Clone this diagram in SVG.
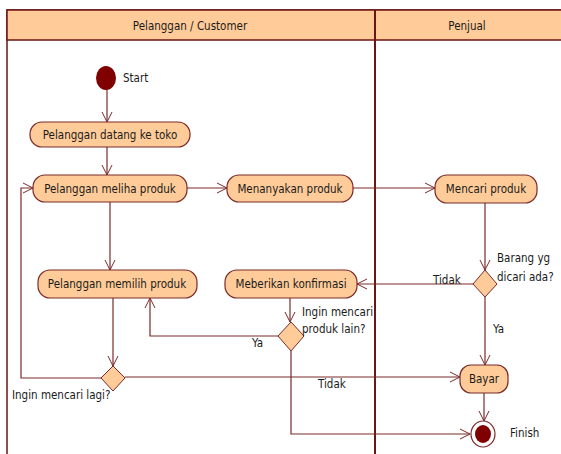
<svg xmlns="http://www.w3.org/2000/svg" width="561" height="454" viewBox="0 0 561 454">
  <defs>
    <style>
      .lane { fill: #ffffff; stroke: #6b1515; stroke-width: 1.5; }
      .head { fill: #ffcc99; stroke: #6b1515; stroke-width: 1.5; }
      .div { stroke: #6b1515; stroke-width: 2; }
      .act { fill: #ffcc99; stroke: #7a2a2a; stroke-width: 1.2; }
      .dec { fill: #ffcc99; stroke: #7a2a2a; stroke-width: 1; }
      .edge { fill: none; stroke: #7a2a2a; stroke-width: 1.2; marker-end: url(#open); }
      .t { font-family: "DejaVu Sans Condensed", "Liberation Sans", sans-serif; font-size: 11.5px; fill: #1a1a1a; }
      .c { text-anchor: middle; }
    </style>
    <marker id="open" viewBox="0 0 12 12" refX="11" refY="6" markerWidth="12" markerHeight="12" markerUnits="userSpaceOnUse" orient="auto">
      <path d="M1,1 L11,6 L1,11" fill="none" stroke="#7a2a2a" stroke-width="1"/>
    </marker>
  </defs>

  <!-- swimlanes -->
  <g id="lanes">
    <rect class="lane" x="7" y="10" width="560" height="450"/>
    <rect class="head" x="7" y="10" width="560" height="30"/>
    <line class="div" x1="375" y1="10" x2="375" y2="454"/>
    <text class="t c" x="190" y="30">Pelanggan / Customer</text>
    <text class="t c" x="467" y="30">Penjual</text>
  </g>

  <!-- connectors -->
  <g id="edges">
    <path class="edge" d="M107,90 V122"/>
    <path class="edge" d="M107,147 V175"/>
    <path class="edge" d="M187,188 H227"/>
    <path class="edge" d="M353,188 H435"/>
    <path class="edge" d="M485,203 V270"/>
    <path class="edge" d="M473,284 H357"/>
    <path class="edge" d="M485,297 V365"/>
    <path class="edge" d="M290,298 V322"/>
    <path class="edge" d="M278,336 H150 V298"/>
    <path class="edge" d="M291,351 V434 H470"/>
    <path class="edge" d="M110,202 V270"/>
    <path class="edge" d="M113,298 V366"/>
    <path class="edge" d="M101,378 H21 V188 H33"/>
    <path class="edge" d="M125,377 H460"/>
    <path class="edge" d="M484,393 V421"/>
  </g>

  <g id="start">
    <ellipse cx="106" cy="78" rx="10" ry="12" fill="#800000"/>
    <text class="t" x="123" y="82">Start</text>
  </g>
  <g id="datang">
    <rect class="act" x="30" y="122" width="160" height="25" rx="12"/>
    <text class="t c" x="110" y="139">Pelanggan datang ke toko</text>
  </g>
  <g id="meliha">
    <rect class="act" x="33" y="175" width="154" height="27" rx="12"/>
    <text class="t c" x="110" y="193">Pelanggan meliha produk</text>
  </g>
  <g id="menanyakan">
    <rect class="act" x="227" y="175" width="126" height="27" rx="12"/>
    <text class="t c" x="290" y="193">Menanyakan produk</text>
  </g>
  <g id="mencari">
    <rect class="act" x="435" y="175" width="102" height="28" rx="12"/>
    <text class="t c" x="486" y="193">Mencari produk</text>
  </g>
  <g id="memilih">
    <rect class="act" x="38" y="270" width="159" height="28" rx="12"/>
    <text class="t c" x="117" y="288">Pelanggan memilih produk</text>
  </g>
  <g id="konfirmasi">
    <rect class="act" x="225" y="270" width="132" height="28" rx="12"/>
    <text class="t c" x="291" y="288">Meberikan konfirmasi</text>
  </g>
  <g id="barang-ada">
    <path class="dec" d="M485,270 L497,284 L485,297 L473,284 Z"/>
    <text class="t" x="497" y="262">Barang yg</text>
    <text class="t" x="497" y="281">dicari ada?</text>
    <text class="t" x="433" y="284">Tidak</text>
    <text class="t" x="493" y="333">Ya</text>
  </g>
  <g id="produk-lain">
    <path class="dec" d="M291,322 L304,336 L291,351 L278,336 Z"/>
    <text class="t" x="302" y="316">Ingin mencari</text>
    <text class="t" x="302" y="333">produk lain?</text>
    <text class="t" x="252" y="347">Ya</text>
  </g>
  <g id="cari-lagi">
    <path class="dec" d="M113,366 L125,378 L113,391 L101,378 Z"/>
    <text class="t" x="12" y="399">Ingin mencari lagi?</text>
    <text class="t" x="318" y="388">Tidak</text>
  </g>
  <g id="bayar">
    <rect class="act" x="460" y="365" width="48" height="28" rx="11"/>
    <text class="t c" x="484" y="383">Bayar</text>
  </g>
  <g id="finish">
    <ellipse cx="483" cy="434" rx="12" ry="13" fill="#ffffff" stroke="#7a2a2a" stroke-width="1.2"/>
    <ellipse cx="483" cy="434" rx="8" ry="9" fill="#800000"/>
    <text class="t" x="510" y="437">Finish</text>
  </g>
</svg>
